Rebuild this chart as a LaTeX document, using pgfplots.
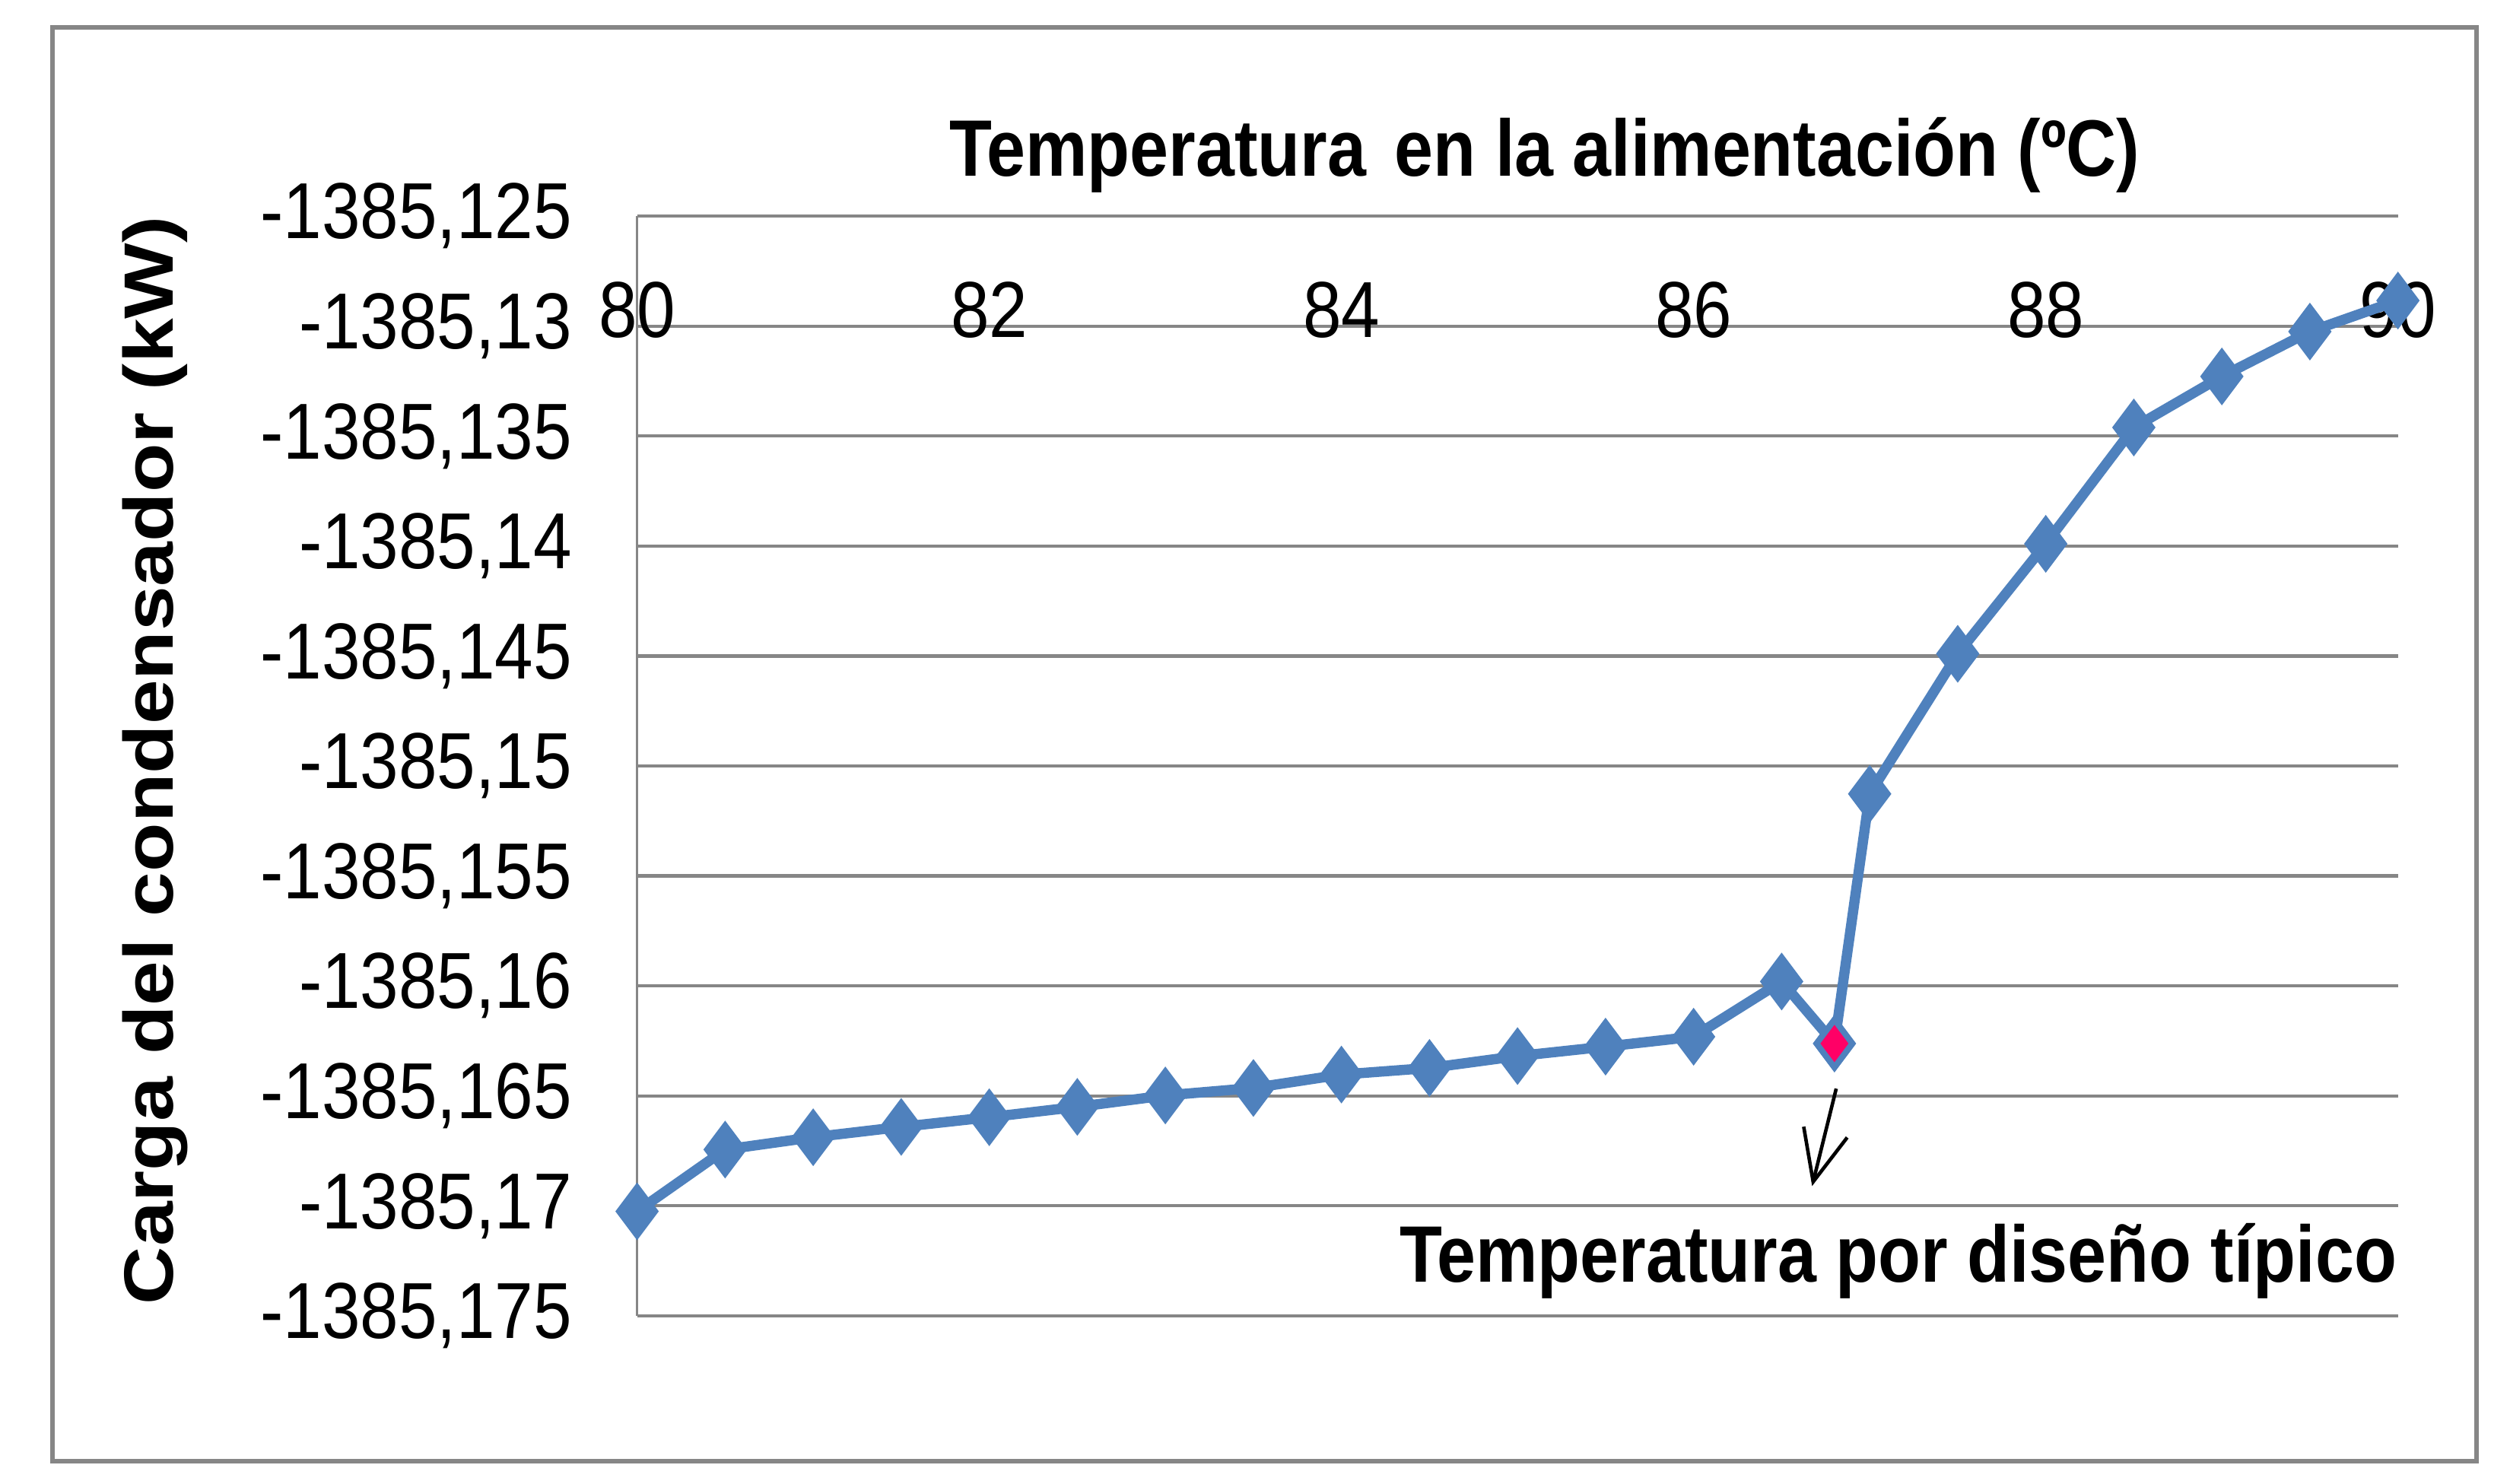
\documentclass[border=0pt]{standalone}
\usepackage{fontspec}
\setmainfont{Liberation Sans}[FakeStretch=0.87]
\newfontfamily\ylabfont{Liberation Sans}[FakeStretch=1.15]
\usepackage{pgfplots}
\pgfplotsset{compat=1.18}
\usetikzlibrary{arrows.meta}
\definecolor{xlblue}{HTML}{4F81BD}
\definecolor{xlred}{HTML}{FF0066}
\definecolor{xlgrid}{HTML}{868686}

% y values stored as (load + 1385) kW: the FPU cannot hold -1385.1703 to 4 decimals
\begin{document}
\begin{tikzpicture}
\useasboundingbox (-99.5pt,-26.25pt) rectangle (292.5pt,205.5pt);
\draw[xlgrid, line width=0.7pt] (-91.25pt,-22.75pt) rectangle (287.25pt,201.25pt);
\begin{axis}[
  scale only axis,
  width=275pt, height=171.75pt,
  xmin=80, xmax=90, ymin=-0.175, ymax=-0.125,
  axis x line*=top, axis y line*=left,
  axis line style={xlgrid, line width=0.4pt},
  xtick={80,82,84,86,88,90},
  ytick={-0.175,-0.17,-0.165,-0.16,-0.155,-0.15,-0.145,-0.14,-0.135,-0.13,-0.125},
  yticklabels={{-1385,175},{-1385,17},{-1385,165},{-1385,16},{-1385,155},{-1385,15},
               {-1385,145},{-1385,14},{-1385,135},{-1385,13},{-1385,125}},
  ymajorgrids,
  grid style={xlgrid, line width=0.5pt},
  major tick length=0pt,
  tick label style={font=\fontsize{12.4}{14}\selectfont},
  x tick label style={anchor=center, inner sep=0pt, yshift=-14.7pt},
  y tick label style={anchor=east, inner sep=0pt, xshift=-10pt},
  /pgf/number format/assume math mode=true,
  clip=false,
]
\addplot[xlblue, line width=1.6pt, mark=diamond*, mark size=4.1pt,
  mark options={fill=xlblue, draw=xlblue, line width=0.5pt, solid}] coordinates {
  (80,-0.17025) (80.5,-0.16744) (81,-0.16688) (81.5,-0.16641) (82,-0.16597)
  (82.5,-0.16550) (83,-0.16498) (83.5,-0.16464) (84,-0.16403) (84.5,-0.16373)
  (85,-0.16319) (85.5,-0.16276) (86,-0.16231) (86.5,-0.15980) (86.8,-0.16262)
  (87,-0.15127) (87.5,-0.14490) (88,-0.13990) (88.5,-0.13461) (89,-0.13229)
  (89.5,-0.13025) (90,-0.12884)
};
\addplot[only marks, mark=diamond*, mark size=3.7pt,
  mark options={fill=xlred, draw=xlblue, line width=0.9pt}] coordinates {
  (86.8,-0.16262)
};
\draw[-{Straight Barb[length=8pt,width=7pt]}, line width=0.55pt]
  (axis cs:86.81,-0.16467) -- (axis cs:86.673,-0.1691);
\node[anchor=east, inner sep=0pt, font=\fontsize{12.5}{15}\selectfont\bfseries]
  at (axis cs:90,-0.1725) {Temperatura por diseño típico};
\node[anchor=center, inner sep=0pt, xshift=4.25pt, yshift=9.5pt,
  font=\fontsize{12.5}{15}\selectfont\bfseries]
  at (rel axis cs:0.5,1) {Temperatura\hspace{0.36em}en la alimentación (ºC)};
\node[anchor=center, inner sep=0pt, rotate=90,
  font=\ylabfont\fontsize{10.9}{13}\selectfont\bfseries]
  at (rel axis cs:-0.2736,0.505) {Carga del condensador (kW)};
\end{axis}
\end{tikzpicture}
\end{document}
